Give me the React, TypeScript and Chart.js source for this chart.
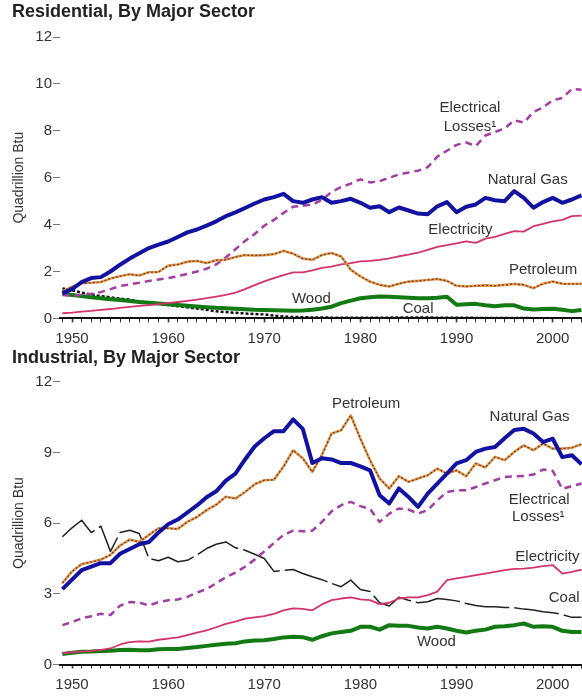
import React, { useEffect, useRef } from "react";
import { Chart, registerables } from "chart.js";

Chart.register(...registerables);

const FONT = "'Liberation Sans', Arial, Helvetica, sans-serif";

// Categories (years)
const years = [
  1949, 1950, 1951, 1952, 1953, 1954, 1955, 1956, 1957, 1958,
  1959, 1960, 1961, 1962, 1963, 1964, 1965, 1966, 1967, 1968,
  1969, 1970, 1971, 1972, 1973, 1974, 1975, 1976, 1977, 1978,
  1979, 1980, 1981, 1982, 1983, 1984, 1985, 1986, 1987, 1988,
  1989, 1990, 1991, 1992, 1993, 1994, 1995, 1996, 1997, 1998,
  1999, 2000, 2001, 2002, 2003,
];

// Residential (Quadrillion Btu)
const resNaturalGas = [
  1.07, 1.25, 1.55, 1.72, 1.76, 2.0, 2.29, 2.55, 2.78, 3.0,
  3.15, 3.28, 3.47, 3.67, 3.79, 3.96, 4.14, 4.36, 4.52, 4.71,
  4.9, 5.07, 5.17, 5.31, 5.0, 4.93, 5.07, 5.17, 4.93, 5.0,
  5.1, 4.93, 4.72, 4.78, 4.53, 4.73, 4.6, 4.47, 4.44, 4.78,
  4.96, 4.53, 4.76, 4.86, 5.14, 5.04, 5.0, 5.43, 5.14, 4.72,
  4.96, 5.14, 4.93, 5.07, 5.25,
];
const resElectricalLosses = [
  1.0, 0.97, 1.0, 1.05, 1.12, 1.25, 1.38, 1.45, 1.52, 1.6,
  1.66, 1.72, 1.8, 1.9, 2.0, 2.12, 2.3, 2.6, 2.95, 3.3,
  3.6, 3.95, 4.2, 4.5, 4.76, 4.8, 4.86, 5.05, 5.4, 5.6,
  5.75, 5.93, 5.8, 5.85, 6.0, 6.14, 6.22, 6.3, 6.45, 6.9,
  7.15, 7.4, 7.5, 7.35, 7.8, 7.95, 8.1, 8.45, 8.35, 8.8,
  9.0, 9.3, 9.4, 9.78, 9.75,
];
const resElectricity = [
  0.22, 0.25, 0.29, 0.32, 0.36, 0.4, 0.45, 0.49, 0.53, 0.57,
  0.61, 0.65, 0.7, 0.75, 0.8, 0.86, 0.93, 1.0, 1.1, 1.25,
  1.42, 1.58, 1.72, 1.85, 1.96, 1.96, 2.05, 2.15, 2.21, 2.3,
  2.36, 2.43, 2.45, 2.5, 2.56, 2.65, 2.72, 2.8, 2.92, 3.05,
  3.12, 3.2, 3.28, 3.22, 3.4, 3.48, 3.6, 3.72, 3.7, 3.93,
  4.03, 4.14, 4.2, 4.36, 4.38,
];
const resPetroleum = [
  1.15, 1.35, 1.5, 1.52, 1.55, 1.7, 1.8, 1.88, 1.83, 1.97,
  1.98, 2.25, 2.3, 2.42, 2.45, 2.36, 2.48, 2.5, 2.62, 2.7,
  2.68, 2.7, 2.74, 2.88, 2.76, 2.55, 2.5, 2.7, 2.79, 2.64,
  2.07, 1.79, 1.57, 1.43, 1.36, 1.48, 1.57, 1.6, 1.64, 1.68,
  1.6, 1.39, 1.36, 1.39, 1.41, 1.39, 1.43, 1.47, 1.43, 1.29,
  1.48, 1.57, 1.48, 1.47, 1.48,
];
const resWood = [
  1.05, 1.0, 0.95, 0.9, 0.86, 0.82, 0.78, 0.74, 0.7, 0.67,
  0.64, 0.6, 0.57, 0.54, 0.51, 0.48, 0.45, 0.43, 0.41, 0.39,
  0.37, 0.36, 0.35, 0.34, 0.33, 0.34, 0.37, 0.42, 0.5, 0.65,
  0.76, 0.86, 0.9, 0.93, 0.92, 0.9, 0.88, 0.86, 0.86, 0.88,
  0.92, 0.58, 0.6, 0.62, 0.56, 0.52, 0.56, 0.56, 0.42, 0.38,
  0.4, 0.41, 0.37, 0.31, 0.36,
];
const resCoal = [
  1.28, 1.2, 1.1, 1.02, 0.95, 0.9, 0.84, 0.8, 0.72, 0.68,
  0.62, 0.57, 0.52, 0.47, 0.42, 0.37, 0.3, 0.27, 0.24, 0.21,
  0.19, 0.17, 0.12, 0.08, 0.06, 0.05, 0.04, 0.04, 0.03, 0.03,
  0.03, 0.03, 0.03, 0.03, 0.03, 0.04, 0.04, 0.04, 0.04, 0.03,
  0.03, 0.03, 0.03, 0.02, 0.02, 0.02, 0.02, 0.02, 0.02, 0.01,
  0.01, 0.01, 0.01, 0.01, 0.01,
];

// Industrial (Quadrillion Btu)
const indNaturalGas = [
  3.2, 3.6, 4.0, 4.15, 4.3, 4.3, 4.7, 4.9, 5.1, 5.2,
  5.6, 5.95, 6.15, 6.45, 6.75, 7.1, 7.35, 7.8, 8.1, 8.7,
  9.25, 9.6, 9.9, 9.9, 10.4, 10.0, 8.55, 8.75, 8.7, 8.55,
  8.55, 8.41, 8.24, 7.18, 6.83, 7.47, 7.11, 6.69, 7.25, 7.68,
  8.1, 8.53, 8.67, 9.02, 9.16, 9.23, 9.6, 9.95, 10.0, 9.8,
  9.44, 9.58, 8.8, 8.88, 8.5,
];
const indPetroleum = [
  3.45, 3.95, 4.26, 4.35, 4.45, 4.65, 5.05, 5.3, 5.2, 5.5,
  5.78, 5.78, 5.75, 6.05, 6.26, 6.55, 6.78, 7.12, 7.04, 7.32,
  7.65, 7.82, 7.84, 8.4, 9.09, 8.75, 8.17, 8.9, 9.8, 9.94,
  10.57, 9.58, 8.67, 7.89, 7.47, 7.99, 7.75, 7.89, 8.03, 8.31,
  8.1, 8.24, 7.99, 8.53, 8.36, 8.81, 8.67, 9.02, 9.3, 9.09,
  9.37, 9.16, 9.16, 9.2, 9.35,
];
const indElectricalLosses = [
  1.67, 1.8, 1.96, 2.05, 2.15, 2.1, 2.5, 2.65, 2.63, 2.5,
  2.65, 2.73, 2.76, 2.87, 3.05, 3.2, 3.45, 3.7, 3.9, 4.15,
  4.45, 4.8, 5.15, 5.5, 5.68, 5.65, 5.68, 6.05, 6.5, 6.76,
  6.9, 6.72, 6.6, 6.05, 6.4, 6.62, 6.57, 6.41, 6.55, 6.97,
  7.32, 7.39, 7.39, 7.53, 7.68, 7.82, 7.96, 7.98, 8.0, 8.06,
  8.27, 8.22, 7.45, 7.57, 7.68,
];
const indElectricity = [
  0.48, 0.52, 0.55, 0.58, 0.62, 0.68, 0.85, 0.95, 0.98, 0.97,
  1.05, 1.1, 1.15, 1.25, 1.35, 1.45, 1.58, 1.72, 1.82, 1.95,
  2.0, 2.05, 2.15, 2.3, 2.38, 2.36, 2.3, 2.55, 2.73, 2.8,
  2.85, 2.76, 2.73, 2.56, 2.62, 2.8, 2.85, 2.85, 2.94, 3.09,
  3.58, 3.65, 3.72, 3.79, 3.86, 3.93, 4.0, 4.06, 4.07, 4.11,
  4.17, 4.22, 3.86, 3.93, 4.03,
];
const indCoal = [
  5.42, 5.8, 6.12, 5.6, 5.87, 4.8, 5.6, 5.7, 5.56, 4.5,
  4.4, 4.55, 4.36, 4.42, 4.65, 4.92, 5.1, 5.2, 4.95, 4.85,
  4.68, 4.5, 3.95, 4.0, 4.03, 3.86, 3.72, 3.6, 3.44, 3.3,
  3.58, 3.18, 3.1, 2.62, 2.48, 2.85, 2.73, 2.62, 2.66, 2.8,
  2.76, 2.7, 2.59, 2.5, 2.45, 2.45, 2.42, 2.41, 2.35, 2.31,
  2.24, 2.2, 2.12, 2.0, 2.0,
];
const indWood = [
  0.45, 0.5, 0.54, 0.55, 0.57, 0.58, 0.62, 0.63, 0.6, 0.6,
  0.65, 0.66, 0.66, 0.7, 0.74, 0.79, 0.84, 0.88, 0.9, 0.98,
  1.02, 1.03, 1.08, 1.15, 1.18, 1.16, 1.05, 1.2, 1.32, 1.38,
  1.43, 1.6, 1.6, 1.48, 1.67, 1.64, 1.64, 1.57, 1.53, 1.6,
  1.53, 1.43, 1.36, 1.43, 1.48, 1.6, 1.62, 1.67, 1.74, 1.6,
  1.62, 1.6, 1.43, 1.38, 1.38,
];

// Tick settings
const yTicksTop = { min: 0, max: 12, step: 2 };
const yTicksBottom = { min: 0, max: 12, step: 3 };
const xRange = { min: 1948.75, max: 2003.05 };

// Series label anchors (year, value)
type Lbl = { text: string; year: number; value: number };
const resLabels: Lbl[] = [
  { text: "Electrical", year: 1991.4, value: 8.97 },
  { text: "Losses\u00b9", year: 1991.4, value: 8.16 },
  { text: "Natural Gas", year: 1997.4, value: 5.9 },
  { text: "Electricity", year: 1990.4, value: 3.77 },
  { text: "Petroleum", year: 1999.0, value: 2.06 },
  { text: "Wood", year: 1974.9, value: 0.83 },
  { text: "Coal", year: 1986.0, value: 0.4 },
];
const indLabels: Lbl[] = [
  { text: "Petroleum", year: 1980.6, value: 11.05 },
  { text: "Natural Gas", year: 1997.6, value: 10.5 },
  { text: "Electrical", year: 1998.6, value: 6.98 },
  { text: "Losses\u00b9", year: 1998.5, value: 6.26 },
  { text: "Electricity", year: 1999.45, value: 4.56 },
  { text: "Coal", year: 2001.2, value: 2.82 },
  { text: "Wood", year: 1987.9, value: 0.95 },
];

const textPlugin = {
  id: "panelText",
  afterDatasetsDraw(chart: any, _args: any, opts: any) {
    const { ctx, scales } = chart;
    ctx.save();
    ctx.font = `bold 18px ${FONT}`;
    ctx.fillStyle = "#222";
    ctx.textBaseline = "middle";
    ctx.textAlign = "left";
    ctx.fillText(opts.title, 12, opts.titleY);
    ctx.font = `15px ${FONT}`;
    ctx.fillStyle = "#333";
    ctx.textAlign = "center";
    for (const l of opts.labels as Lbl[]) {
      ctx.fillText(
        l.text,
        scales.x.getPixelForValue(l.year),
        scales.y.getPixelForValue(l.value)
      );
    }
    ctx.restore();
  },
};

function series(vals: number[], style: any) {
  return {
    data: years.map((y, i) => ({ x: y, y: vals[i] })),
    pointRadius: 0,
    fill: false,
    tension: 0,
    borderJoinStyle: "round",
    ...style,
  };
}

const STY = {
  gas: { borderColor: "#1212a2", borderWidth: 4 },
  losses: { borderColor: "#a43ca6", borderWidth: 2.5, borderDash: [7, 5] },
  petroDots: { borderColor: "#7a3c12", borderWidth: 1.3, borderDash: [2, 2] },
  petroBase: { borderColor: "#e39a55", borderWidth: 2.6 },
  elec: { borderColor: "#d6336c", borderWidth: 1.8 },
  wood: { borderColor: "#127a12", borderWidth: 4 },
  coalRes: { borderColor: "#111", borderWidth: 2.5, borderDash: [3, 2] },
  coalInd: { borderColor: "#222", borderWidth: 1.5, borderDash: [45, 5] },
};

function makeOptions(
  yt: { min: number; max: number; step: number },
  padTop: number,
  xAxisH: number,
  title: string,
  titleY: number,
  labels: Lbl[]
) {
  return {
    responsive: false,
    maintainAspectRatio: false,
    animation: false,
    layout: { padding: { top: padTop, left: 0, right: 0, bottom: 0 } },
    plugins: {
      legend: { display: false },
      tooltip: { enabled: false },
      panelText: { title, titleY, labels },
    },
    scales: {
      x: {
        type: "linear",
        min: xRange.min,
        max: xRange.max,
        afterFit: (s: any) => {
          s.height = xAxisH;
          s.paddingLeft = 0;
          s.paddingRight = 0;
        },
        border: { display: true, color: "#111", width: 2 },
        grid: {
          drawOnChartArea: false,
          drawTicks: true,
          tickLength: 4,
          tickColor: "#333",
          tickWidth: (c: any) =>
            c.tick && Math.round(c.tick.value) % 10 === 0 ? 1.6 : 1,
        },
        ticks: {
          stepSize: 1,
          autoSkip: false,
          includeBounds: false,
          maxRotation: 0,
          padding: 7,
          color: "#333",
          font: { family: FONT, size: 15 },
          callback: (v: any) =>
            Math.round(v) % 10 === 0 ? String(Math.round(v)) : "",
        },
      },
      y: {
        min: yt.min,
        max: yt.max,
        afterFit: (s: any) => {
          s.width = 60;
        },
        border: { display: false },
        grid: {
          drawOnChartArea: false,
          drawTicks: true,
          tickLength: 7,
          tickColor: "#777",
          tickWidth: 1,
        },
        ticks: {
          stepSize: yt.step,
          padding: 1,
          color: "#333",
          font: { family: FONT, size: 15 },
        },
        title: {
          display: true,
          text: "Quadrillion Btu",
          color: "#333",
          font: { family: FONT, size: 14 },
          padding: { top: 11, bottom: 0 },
        },
      },
    },
  } as any;
}

export default function App() {
  const topRef = useRef<HTMLCanvasElement>(null);
  const botRef = useRef<HTMLCanvasElement>(null);

  useEffect(() => {
    const c1 = new Chart(topRef.current as HTMLCanvasElement, {
      type: "line",
      data: {
        datasets: [
          series(resNaturalGas, STY.gas),
          series(resPetroleum, STY.petroDots),
          series(resPetroleum, STY.petroBase),
          series(resElectricalLosses, STY.losses),
          series(resElectricity, STY.elec),
          series(resWood, STY.wood),
          series(resCoal, STY.coalRes),
        ],
      },
      options: makeOptions(
        yTicksTop,
        37,
        29.6,
        "Residential, By Major Sector",
        12.5,
        resLabels
      ),
      plugins: [textPlugin],
    } as any);

    const c2 = new Chart(botRef.current as HTMLCanvasElement, {
      type: "line",
      data: {
        datasets: [
          series(indNaturalGas, STY.gas),
          series(indPetroleum, STY.petroDots),
          series(indPetroleum, STY.petroBase),
          series(indElectricalLosses, STY.losses),
          series(indElectricity, STY.elec),
          series(indCoal, STY.coalInd),
          series(indWood, STY.wood),
        ],
      },
      options: makeOptions(
        yTicksBottom,
        33.7,
        31.5,
        "Industrial, By Major Sector",
        10,
        indLabels
      ),
      plugins: [textPlugin],
    } as any);

    return () => {
      c1.destroy();
      c2.destroy();
    };
  }, []);

  return (
    <div
      style={{
        position: "absolute",
        left: 0,
        top: 0,
        width: 582,
        height: 696,
        background: "#fff",
        overflow: "hidden",
      }}
    >
      <canvas
        ref={topRef}
        width={582}
        height={348}
        style={{ position: "absolute", left: 0, top: 0, width: 582, height: 348 }}
      />
      <canvas
        ref={botRef}
        width={582}
        height={348}
        style={{ position: "absolute", left: 0, top: 348, width: 582, height: 348 }}
      />
    </div>
  );
}
